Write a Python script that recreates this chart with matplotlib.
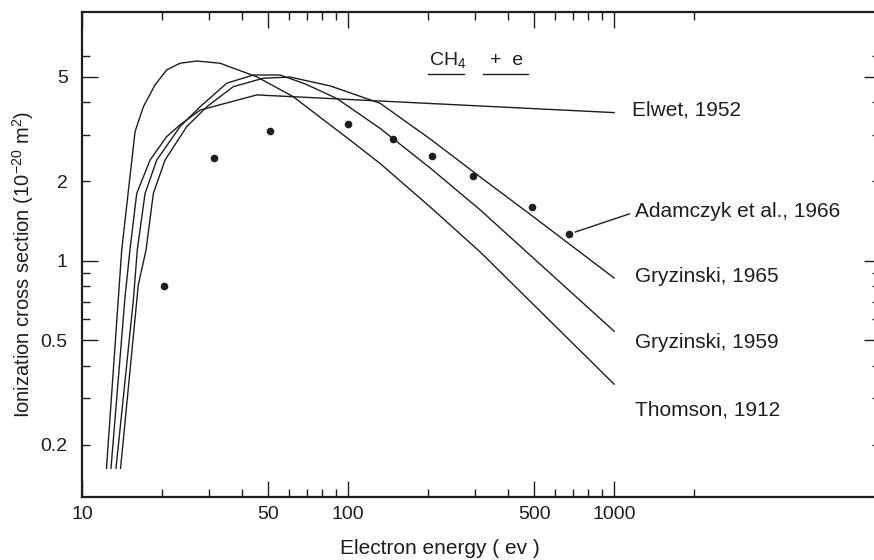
import matplotlib
matplotlib.use('Agg')
import matplotlib.pyplot as plt

plt.rcParams['font.family'] = ['Liberation Sans', 'DejaVu Sans']
plt.rcParams['mathtext.fontset'] = 'custom'
plt.rcParams['mathtext.rm'] = 'Liberation Sans'
plt.rcParams['mathtext.it'] = 'Liberation Sans:italic'
plt.rcParams['mathtext.bf'] = 'Liberation Sans:bold'
plt.rcParams['mathtext.sf'] = 'Liberation Sans'

INK = '#1e1e1e'

# ---- data (electron energy in eV, cross section in 1e-20 m^2) ----
thomson_x = [12.33, 14.07, 15.79, 16.97, 18.77, 20.77, 23.32, 26.94, 32.96, 45.3, 62.0, 101.6, 131.8, 203.3, 313.4, 1000]
thomson_y = [0.163, 1.10, 3.09, 3.84, 4.65, 5.30, 5.62, 5.73, 5.62, 4.99, 4.20, 2.87, 2.34, 1.60, 1.08, 0.34]

elwet_x = [12.82, 14.48, 15.11, 16.02, 17.98, 20.77, 23.32, 27.73, 45.3, 1000]
elwet_y = [0.163, 0.730, 1.10, 1.80, 2.41, 2.96, 3.28, 3.73, 4.26, 3.65]

gryz59_x = [13.39, 15.56, 16.10, 17.22, 19.05, 23.32, 27.73, 34.94, 43.99, 55.43, 68.9, 90.6, 131.8, 203.3, 313.4, 1000]
gryz59_y = [0.163, 0.709, 1.10, 1.80, 2.41, 3.23, 3.84, 4.72, 5.07, 5.07, 4.69, 4.13, 3.18, 2.25, 1.56, 0.54]

gryz65_x = [13.93, 16.24, 17.37, 18.50, 20.47, 24.71, 29.38, 36.99, 47.97, 60.4, 85.5, 131.8, 203.3, 313.4, 492, 1000]
gryz65_y = [0.163, 0.809, 1.10, 1.80, 2.41, 3.23, 3.84, 4.58, 4.93, 4.98, 4.61, 3.96, 2.90, 2.08, 1.48, 0.86]

adam_x = [20.3, 31.4, 51, 100, 148, 207, 295, 493, 674]
adam_y = [0.80, 2.45, 3.11, 3.30, 2.89, 2.50, 2.10, 1.60, 1.26]

x_major = [10, 50, 100, 500, 1000]
x_major_labels = ['10', '50', '100', '500', '1000']
x_minor = [20, 30, 40, 60, 70, 80, 90, 200, 300, 400, 600, 700, 800, 900, 2000]
y_major = [0.5, 1, 5]
y_major_labels = ['0.5', '1', '5']
y_minor = [0.2, 0.3, 0.4, 0.6, 0.7, 0.8, 0.9, 2, 3, 4, 6]
y_minor_labels = ['0.2', '', '', '', '', '', '', '2', '', '', '']

curve_labels = ['Elwet, 1952', 'Adamczyk et al., 1966', 'Gryzinski, 1965',
                'Gryzinski, 1959', 'Thomson, 1912']

# ---- figure ----
W, H = 874, 560
fig = plt.figure(figsize=(W / 100, H / 100), dpi=100)
L, R, T, B = 82.3, 880.0, 11.7, 496.7
ax = fig.add_axes([L / W, (H - B) / H, (R - L) / W, (B - T) / H])
ax.set_xscale('log')
ax.set_yscale('log')
ax.set_xlim(10, 10000)
ax.set_ylim(0.1271, 8.817)

lw = 1.0
ax.plot(thomson_x, thomson_y, color=INK, lw=lw)
ax.plot(elwet_x, elwet_y, color=INK, lw=lw)
ax.plot(gryz59_x, gryz59_y, color=INK, lw=lw)
ax.plot(gryz65_x, gryz65_y, color=INK, lw=lw)
ax.plot(adam_x, adam_y, 'o', color=INK, ms=5.5, mec='none')

ax.set_xticks(x_major, x_major_labels)
ax.set_xticks(x_minor, [''] * len(x_minor), minor=True)
ax.set_yticks(y_major, y_major_labels)
ax.set_yticks(y_minor, y_minor_labels, minor=True)

ax.tick_params(which='both', direction='in', top=True, right=True, width=1.0,
               colors=INK, labelsize=14)
ax.tick_params(which='major', length=11.5)
ax.tick_params(which='minor', length=6)
ax.tick_params(axis='x', which='both', pad=7)
ax.tick_params(axis='y', which='both', pad=10.5)

for s in ax.spines.values():
    s.set_linewidth(1.6)
    s.set_color(INK)
ax.spines['right'].set_visible(False)

# curve labels
def af(px, py):
    return ((px - L) / (R - L), (B - py) / (B - T))

fs = 15
ax.text(*af(632, 110), curve_labels[0], transform=ax.transAxes, ha='left', va='center', fontsize=fs, color=INK)
ax.text(*af(635, 277), curve_labels[2], transform=ax.transAxes, ha='left', va='center', fontsize=fs, color=INK)
ax.text(*af(635, 343), curve_labels[3], transform=ax.transAxes, ha='left', va='center', fontsize=fs, color=INK)
ax.text(*af(635, 410), curve_labels[4], transform=ax.transAxes, ha='left', va='center', fontsize=fs, color=INK)
ax.annotate(curve_labels[1], xy=(adam_x[-1], adam_y[-1]), xytext=af(635, 212),
            textcoords='axes fraction', ha='left', va='center', fontsize=fs, color=INK,
            arrowprops=dict(arrowstyle='-', color=INK, lw=1.0, relpos=(0, 0.5),
                            shrinkA=2, shrinkB=5))

# reaction title
ax.text(*af(429, 65), 'CH$_4$', transform=ax.transAxes, ha='left', va='baseline', fontsize=14, color=INK)
ax.text(*af(490, 65), '+  e', transform=ax.transAxes, ha='left', va='baseline', fontsize=14, color=INK)
for x0, x1 in [(427.7, 464), (483.3, 528.3)]:
    a0, b0 = af(x0, 74)
    a1, _ = af(x1, 74)
    ax.plot([a0, a1], [b0, b0], transform=ax.transAxes, color=INK, lw=1.0, clip_on=False)

# axis labels
fig.text(439.5 / W, 1 - 554 / H, 'Electron energy ( ev )', ha='center', va='baseline',
         fontsize=15, color=INK)
fig.text(23 / W, 1 - 265 / H, 'Ionization cross section (10$^{-20}$ m$^2$)', rotation=90,
         ha='center', va='center', fontsize=14.5, color=INK)

fig.savefig('out.png', dpi=100)
